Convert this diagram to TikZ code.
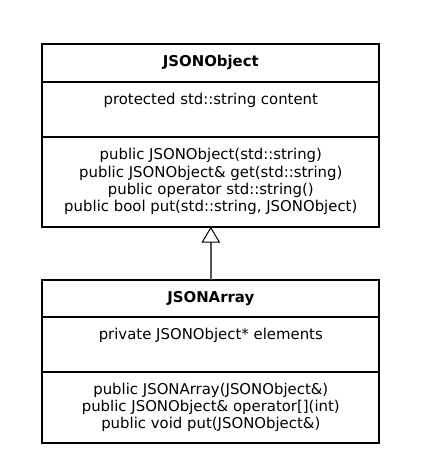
\documentclass[tikz,border=0pt]{standalone}
\usepackage{fontspec}
\setmainfont{DejaVu Sans}
\usetikzlibrary{arrows.meta}
\begin{document}
\begin{tikzpicture}[x=1pt,y=-1pt,
  comp/.style={draw=black, line width=2pt, minimum width=337pt, inner sep=0pt, outer sep=0pt,
    align=center, font=\fontsize{14.9}{17.3}\selectfont},
  ttl/.style={comp, font=\fontsize{14.9}{17.3}\selectfont\bfseries},
  txt/.style={inner sep=0pt, align=center, font=\fontsize{14.9}{17.3}\selectfont},
  conn/.style={draw=black!67, line width=1.4pt,
    -{Triangle[open, length=16pt, width=18.6pt, line width=1pt, color=black, fill=white]}}]
\useasboundingbox (0,0) rectangle (435,474);
% JSONObject
\node[ttl, minimum height=37.7pt] (t1) at (210.8,62.85) {JSONObject};
\node[comp, minimum height=55pt] (a1) at (210.8,109.2) {};
\node[txt] (a1t) at (210.8,100) {protected std::string content};
\node[comp, minimum height=90pt] (m1) at (210.8,181.7) {public JSONObject(std::string)\\public JSONObject\& get(std::string)\\public operator std::string()\\public bool put(std::string, JSONObject)};
% JSONArray
\node[ttl, minimum height=36.7pt] (t2) at (210.8,298.35) {JSONArray};
\node[comp, minimum height=55pt] (a2) at (210.8,344.2) {};
\node[txt] (a2t) at (210.8,335) {private JSONObject* elements};
\node[comp, minimum height=71.3pt] (m2) at (210.8,407.35) {public JSONArray(JSONObject\&)\\public JSONObject\& operator[](int)\\public void put(JSONObject\&)};
% inheritance
\draw[conn] (t2.north) -- (m1.south);
\end{tikzpicture}
\end{document}
